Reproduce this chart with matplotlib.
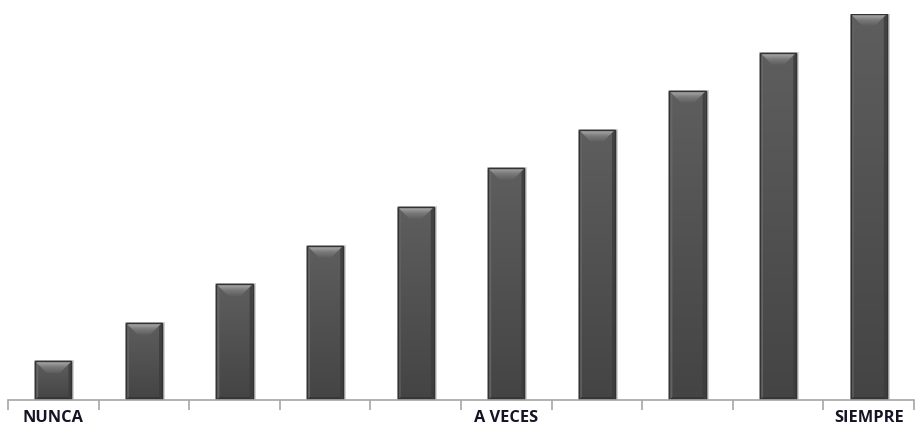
import numpy as np
import matplotlib
matplotlib.use("Agg")
import matplotlib.pyplot as plt
from matplotlib.patches import Polygon, Rectangle
from matplotlib.colors import LinearSegmentedColormap

# Frequency scale: ten steps from "never" to "always"
categories = list(range(1, 11))
values = [1, 2, 3, 4, 5, 6, 7, 8, 9, 10]
tick_labels = ["NUNCA", "", "", "", "", "A VECES", "", "", "", "SIEMPRE"]

W, H, DPI = 917, 429, 100
fig = plt.figure(figsize=(W / DPI, H / DPI), dpi=DPI)
ax = fig.add_axes([8 / W, 29 / H, 906 / W, 386 / H])

x = np.arange(len(categories))
bars = ax.bar(x, values, width=0.4, color="#505050", edgecolor="#2e2e2e",
              linewidth=1.0, zorder=3)
n = len(categories)
top = max(values)
ax.set_xlim(-0.5, n - 0.5)
ax.set_ylim(0, top)

# data units per pixel
px_x = n / 906.0
px_y = top / 386.0

body_cmap = LinearSegmentedColormap.from_list("body", ["#5e5e5e", "#444444"])
top_cmap = LinearSegmentedColormap.from_list("bev", ["#b0b0b0", "#7a7a7a", "#5e5e5e"])
for b in bars:
    x0, y0 = b.get_x(), b.get_y()
    w, h = b.get_width(), b.get_height()
    x1, y1 = x0 + w, y0 + h
    d = 12
    dx, dy = d * px_x, d * px_y
    sx, sy = 3 * px_x, 3 * px_y
    # soft shadow around the bar
    ax.add_patch(Rectangle((x0 - px_x, y0), w + 4 * px_x, h + px_y,
                           color="#d4d4d4", zorder=2, lw=0))
    # body with vertical gradient
    body = Rectangle((x0, y0), w, h, facecolor="none", lw=0, zorder=3)
    ax.add_patch(body)
    gb = np.linspace(0, 1, 128).reshape(-1, 1)
    imb = ax.imshow(gb, cmap=body_cmap, aspect="auto",
                    extent=(x0, x1, y0, y1), origin="upper", zorder=3.5)
    imb.set_clip_path(body)
    # side bevels
    ax.add_patch(Polygon([(x0, y0), (x0 + sx, y0 + sy), (x0 + sx, y1 - sy), (x0, y1)],
                         closed=True, color="#6a6a6a", alpha=0.8, lw=0, zorder=4))
    ax.add_patch(Polygon([(x1, y0), (x1 - sx, y0 + sy), (x1 - sx, y1 - sy), (x1, y1)],
                         closed=True, color="#3c3c3c", alpha=0.8, lw=0, zorder=4))
    ax.add_patch(Polygon([(x0, y0), (x1, y0), (x1 - sx, y0 + sy), (x0 + sx, y0 + sy)],
                         closed=True, color="#363636", lw=0, zorder=4))
    # top bevel with vertical gradient
    poly = Polygon([(x0, y1), (x1, y1), (x1 - dx, y1 - dy), (x0 + dx, y1 - dy)],
                   closed=True, facecolor="none", lw=0, zorder=5)
    ax.add_patch(poly)
    grad = np.linspace(0, 1, 64).reshape(-1, 1)
    im = ax.imshow(grad, cmap=top_cmap, aspect="auto",
                   extent=(x0, x1, y1 - dy, y1), origin="upper", zorder=5)
    im.set_clip_path(poly)
    # outline redrawn on top
    ax.add_patch(Rectangle((x0, y0), w, h, fill=False, edgecolor="#333333",
                           lw=1.0, zorder=6))

ax.set_xlim(-0.5, n - 0.5)
ax.set_ylim(0, top)

for s in ["top", "left", "right"]:
    ax.spines[s].set_visible(False)
ax.spines["bottom"].set_color("#a6a6a6")
ax.spines["bottom"].set_linewidth(1.2)
ax.spines["bottom"].set_zorder(7)
ax.yaxis.set_visible(False)

ax.set_xticks(x)
ax.set_xticklabels(tick_labels, fontfamily=["Open Sans", "DejaVu Sans"],
                   fontweight="bold", fontsize=11.8, color="#141424")
ax.tick_params(axis="x", which="major", length=0, pad=7)
ax.set_xticks(np.arange(-0.5, n), minor=True)
ax.tick_params(axis="x", which="minor", length=7, color="#a6a6a6", width=1.2)

fig.savefig("out.png", dpi=DPI)
